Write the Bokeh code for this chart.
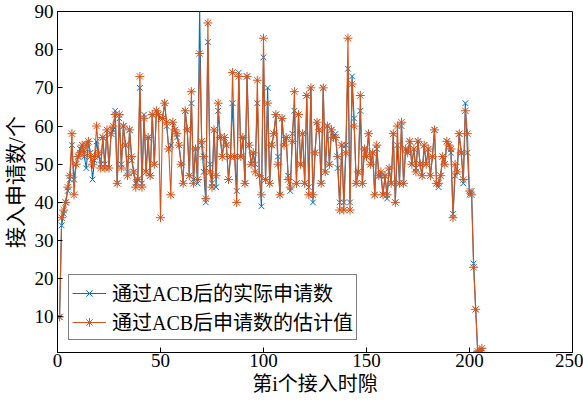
from bokeh.plotting import figure
from bokeh.models import Range1d, FixedTicker, Legend, LegendItem
from bokeh.embed import file_html
from bokeh.resources import INLINE

# access slot index
slots = list(range(1, 207))

# requests that actually passed ACB
actual = [
    10, 34, 37, 40, 43, 46, 55, 46, 50, 52,
    54, 55, 52, 49, 56, 53, 46, 51, 56, 52,
    50, 57, 50, 59, 49, 58, 59, 64, 45, 62,
    50, 60, 55, 48, 59, 51, 48, 45, 46, 70,
    45, 63, 48, 57, 47, 63, 50, 64, 63, 62,
    62, 66, 60, 54, 55, 61, 59, 57, 55, 50,
    45, 64, 59, 47, 66, 46, 54, 45, 91, 55,
    48, 40, 82, 50, 45, 59, 44, 64, 57, 52,
    57, 55, 46, 52, 66, 52, 43, 74, 52, 57,
    45, 73, 55, 50, 53, 50, 66, 47, 39, 78,
    46, 70, 45, 55, 58, 63, 52, 42, 62, 55,
    57, 47, 43, 58, 64, 45, 63, 50, 58, 45,
    68, 44, 70, 40, 53, 61, 59, 45, 70, 48,
    60, 50, 59, 57, 58, 49, 40, 55, 40, 55,
    75, 40, 73, 62, 45, 48, 64, 45, 54, 52,
    58, 50, 53, 42, 54, 47, 47, 42, 47, 41,
    49, 45, 58, 40, 55, 45, 60, 45, 54, 53,
    56, 50, 54, 49, 56, 50, 47, 55, 50, 54,
    47, 52, 59, 45, 44, 47, 52, 50, 56, 55,
    53, 37, 47, 48, 58, 53, 45, 66, 53, 42,
    43, 24, 12, 0.5, 0.8, 1.2,
]

# estimated number of requests after ACB
estimated = [
    10, 36, 38, 40, 44, 47, 58, 42, 50, 52,
    53, 55, 53, 55, 56, 52, 50, 52, 60, 53,
    49, 57, 49, 59, 49, 58, 60, 63, 45, 63,
    49, 60, 55, 47, 59, 52, 48, 44, 46, 73,
    44, 62, 48, 57, 47, 63, 50, 64, 63, 36,
    62, 66, 61, 54, 42, 61, 59, 58, 55, 50,
    45, 64, 59, 47, 69, 45, 54, 46, 79, 56,
    52, 41, 87, 48, 44, 59, 47, 66, 57, 52,
    57, 55, 46, 52, 74, 52, 40, 73, 52, 57,
    45, 73, 55, 50, 53, 48, 72, 47, 42, 83,
    46, 66, 45, 55, 58, 63, 50, 42, 62, 55,
    57, 46, 44, 56, 69, 45, 63, 50, 58, 45,
    68, 42, 70, 42, 53, 61, 59, 45, 70, 48,
    60, 50, 59, 57, 57, 52, 38, 55, 38, 53,
    83, 38, 71, 60, 45, 48, 68, 45, 54, 52,
    58, 50, 53, 42, 55, 47, 48, 42, 47, 42,
    49, 45, 58, 40, 60, 45, 61, 45, 54, 53,
    56, 50, 54, 48, 56, 50, 47, 55, 50, 54,
    47, 52, 59, 45, 45, 47, 52, 50, 56, 55,
    54, 36, 50, 48, 58, 53, 46, 64, 58, 43,
    42, 23, 12, 1.0, 1.2, 1.8,
]

x_ticks = [0, 50, 100, 150, 200, 250]
y_ticks = [10, 20, 30, 40, 50, 60, 70, 80, 90]

BLUE = "#0072BD"
ORANGE = "#D95319"
SERIF = "Liberation Serif, Noto Sans CJK SC"

p = figure(width=583, height=404, output_backend="svg", toolbar_location=None,
           x_range=Range1d(0, 250), y_range=Range1d(0.7, 90),
           min_border_left=57, min_border_right=11,
           min_border_top=11, min_border_bottom=52)
p.background_fill_color = "white"
p.border_fill_color = "white"
p.grid.visible = False
p.outline_line_color = "black"
p.outline_line_width = 1

p.xaxis.ticker = FixedTicker(ticks=x_ticks)
p.yaxis.ticker = FixedTicker(ticks=y_ticks)
for ax in (p.xaxis, p.yaxis):
    ax.major_tick_in = 5
    ax.major_tick_out = 0
    ax.minor_tick_line_color = None
    ax.axis_line_color = "black"
    ax.major_tick_line_color = "black"
    ax.major_label_text_font = SERIF
    ax.major_label_text_font_size = "19px"
    ax.major_label_text_color = "black"
    ax.axis_label_text_font = SERIF
    ax.axis_label_text_font_style = "normal"
    ax.axis_label_text_color = "black"
p.xaxis.axis_label_text_font_size = "20px"
p.yaxis.axis_label_text_font_size = "21px"
p.xaxis.major_label_standoff = 1
p.yaxis.major_label_standoff = 4
p.xaxis.axis_label = "第i个接入时隙"
p.xaxis.axis_label_standoff = 3
p.yaxis.axis_label = "接入申请数/个"
p.yaxis.axis_label_standoff = 4

l1 = p.line(slots, actual, line_color=BLUE, line_width=1.1)
m1 = p.scatter(slots, actual, marker="x", size=8, line_color=BLUE, line_width=1)
l2 = p.line(slots, estimated, line_color=ORANGE, line_width=1.1)
m2 = p.scatter(slots, estimated, marker="asterisk", size=9, line_color=ORANGE, line_width=1)

legend = Legend(items=[
    LegendItem(label="通过ACB后的实际申请数", renderers=[l1, m1]),
    LegendItem(label="通过ACB后申请数的估计值", renderers=[l2, m2]),
], location=(11, 12))
legend.label_text_font = SERIF
legend.label_text_font_size = "20px"
legend.label_text_color = "black"
legend.border_line_color = "black"
legend.border_line_width = 1
legend.background_fill_alpha = 1
legend.glyph_width = 34
legend.glyph_height = 22
legend.label_height = 22
legend.label_standoff = 6
legend.padding = 3
legend.spacing = 0
legend.margin = 0
p.add_layout(legend, "center")

open("out.html", "w").write(file_html(p, INLINE))
